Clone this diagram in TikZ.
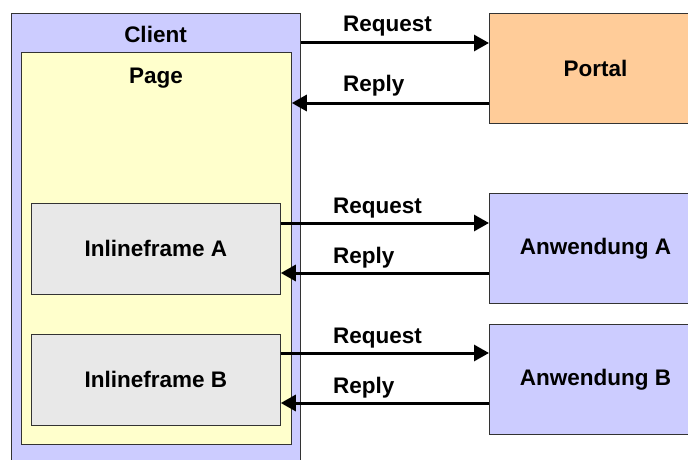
\documentclass[tikz,border=0pt]{standalone}
\usepackage{fontspec}
\setmainfont{Liberation Sans}
\usetikzlibrary{arrows.meta}
\begin{document}
\begin{tikzpicture}[x=1pt,y=-1pt]

\definecolor{clcolor}{HTML}{CCCCFF}
\definecolor{pgcolor}{HTML}{FFFFCC}
\definecolor{ifcolor}{HTML}{E8E8E8}
\definecolor{ptcolor}{HTML}{FFCC99}
\definecolor{apcolor}{HTML}{CCCCFF}
\definecolor{mcolor}{HTML}{333333}

\tikzstyle{bold}=[font=\fontsize{22.5}{27}\selectfont\bfseries]
\tikzstyle{box}=[bold, draw=mcolor, line width=0.8pt, anchor=north west, inner sep=0pt]
\tikzstyle{title}=[bold, anchor=base, inner sep=0pt]
\tikzstyle{arrowtext}=[bold, anchor=base west, inner sep=0pt]
\tikzstyle{arrow}=[line width=3pt, color=black, -{Triangle[length=15pt,width=16pt]}]

%\draw[help lines] (0,0) grid[step=20] (688,460);
\clip (0,0) rectangle (688,460);

% request from #1 to #2 at height #3, reply back at height #4
\def\exchange#1#2#3#4#5{
    \draw[arrow] (#1.east |- 0,#3) -- (#2.west |- 0,#3);
    \draw[arrow] (#2.west |- 0,#4) -- (#5.east |- 0,#4);
}

% client side
\node[box, fill=clcolor, minimum width=289, minimum height=460] (client) at (11,13) {};
\node[title] (clienttitle) at (155.5,43) {Client};
\node[box, fill=pgcolor, minimum width=270, minimum height=392] (page) at (21,52) {};
\node[title] (pagetitle) at (156,83) {Page};
\node[box, fill=ifcolor, minimum width=249, minimum height=91] (framea) at (31,203) {Inlineframe A};
\node[box, fill=ifcolor, minimum width=249, minimum height=91] (frameb) at (31,334) {Inlineframe B};

% server side
\node[box, fill=ptcolor, minimum width=212, minimum height=110] (portal) at (489,13) {Portal};
\node[box, fill=apcolor, minimum width=212, minimum height=110] (appa) at (489,193) {Anwendung A};
\node[box, fill=apcolor, minimum width=212, minimum height=110] (appb) at (489,324) {Anwendung B};

% messages
\exchange{client}{portal}{43}{103}{page}
\exchange{framea}{appa}{223}{273}{framea}
\exchange{frameb}{appb}{353}{403}{frameb}

\node[arrowtext] (reqportal) at (343,32) {Request};
\node[arrowtext] (repportal) at (343,92) {Reply};
\node[arrowtext] (reqa) at (333,213) {Request};
\node[arrowtext] (repa) at (333,263) {Reply};
\node[arrowtext] (reqb) at (333,343) {Request};
\node[arrowtext] (repb) at (333,393) {Reply};

\end{tikzpicture}
\end{document}
